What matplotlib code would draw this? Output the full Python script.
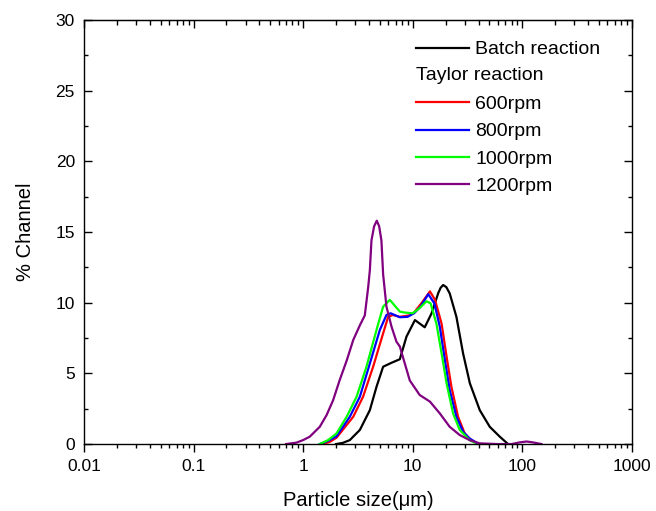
import matplotlib
matplotlib.use("Agg")
import matplotlib.pyplot as plt
from matplotlib.lines import Line2D
from matplotlib.ticker import LogLocator, FixedLocator, MultipleLocator, NullFormatter

plt.rcParams['font.family'] = ['Liberation Sans', 'DejaVu Sans']

# values
batch_x = [2.0, 2.3, 2.67, 3.30, 4.07, 4.68, 5.38, 6.42, 7.38, 7.64, 8.79, 10.5, 12.9, 14.9,
           17.1, 18.0, 19.0, 20.3, 21.8, 25.1, 28.9, 33.3, 41.0, 50.6, 62.5, 74.3]
batch_y = [0, 0.08, 0.28, 1.0, 2.4, 4.05, 5.47, 5.75, 5.95, 6.0, 7.6, 8.77, 8.26, 9.25,
           10.66, 11.05, 11.25, 11.1, 10.66, 9.0, 6.4, 4.3, 2.4, 1.22, 0.52, 0.0]

rpm600_x = [1.50, 1.75, 2.02, 2.87, 3.53, 4.36, 5.38, 5.98, 6.6, 7.64, 9.3, 10.3, 12.0, 14.4,
            16.0, 18.4, 20.4, 22.6, 26.0, 29.9, 34.0, 38.0]
rpm600_y = [0, 0.15, 0.45, 1.93, 3.35, 5.47, 7.83, 9.0, 9.13, 9.0, 9.1, 9.3, 9.95, 10.8,
            10.2, 8.5, 6.2, 4.05, 1.93, 0.75, 0.3, 0.1]

rpm800_x = [1.42, 1.69, 2.02, 2.67, 3.30, 4.07, 5.02, 5.77, 6.3, 7.64, 9.0, 10.3, 11.8, 13.9,
            15.8, 17.7, 19.7, 21.8, 25.1, 28.9, 33.0, 38.2]
rpm800_y = [0, 0.22, 0.55, 1.93, 3.35, 5.7, 8.07, 9.13, 9.25, 8.97, 9.0, 9.25, 9.72, 10.6,
            9.95, 8.3, 5.95, 3.82, 1.93, 0.87, 0.4, 0.1]

rpm1000_x = [1.42, 1.69, 2.02, 2.50, 3.08, 3.79, 4.68, 5.38, 6.19, 7.64, 8.5, 10.0, 11.5, 13.4,
             14.6, 16.5, 18.4, 20.4, 23.4, 26.9, 33.0, 36.9]
rpm1000_y = [0, 0.28, 0.75, 1.93, 3.35, 5.47, 8.07, 9.72, 10.2, 9.37, 9.3, 9.25, 9.6, 10.1,
             9.95, 8.5, 6.4, 4.3, 2.17, 1.0, 0.28, 0.1]

rpm1200_x = [0.70, 0.87, 1.0, 1.15, 1.42, 1.64, 1.88, 2.16, 2.50, 2.87, 3.30, 3.66, 3.93,
             4.07, 4.21, 4.45, 4.71, 4.95, 5.19, 5.38, 5.77, 6.42, 7.12, 7.64, 9.42, 11.6,
             14.4, 17.7, 21.8, 26.9, 33.1, 40.9, 60, 80, 95, 110, 125, 150]
rpm1200_y = [0, 0.1, 0.28, 0.52, 1.22, 2.05, 3.1, 4.53, 5.9, 7.36, 8.4, 9.1, 11.1,
             12.3, 14.4, 15.4, 15.8, 15.4, 14.4, 12.0, 9.72, 8.3, 7.24, 6.9, 4.5, 3.47,
             3.0, 2.17, 1.22, 0.64, 0.28, 0.05, 0, 0, 0.12, 0.18, 0.12, 0]

x_ticks = [0.01, 0.1, 1, 10, 100, 1000]
x_labels = ["0.01", "0.1", "1", "10", "100", "1000"]
y_ticks = [0, 5, 10, 15, 20, 25, 30]

fig = plt.figure(figsize=(6.56, 5.11), dpi=100)
ax = fig.add_axes([0.128, 0.131, 0.835, 0.830])

lw = 1.6
ax.plot(batch_x, batch_y, color="black", lw=lw)
ax.plot(rpm600_x, rpm600_y, color="#FF0000", lw=lw)
ax.plot(rpm800_x, rpm800_y, color="#0000FF", lw=lw)
ax.plot(rpm1000_x, rpm1000_y, color="#00FF00", lw=lw)
ax.plot(rpm1200_x, rpm1200_y, color="#800080", lw=lw)

ax.set_xscale("log")
ax.set_xlim(0.01, 1000)
ax.set_ylim(0, 30)
ax.xaxis.set_major_locator(FixedLocator(x_ticks))
ax.set_xticklabels(x_labels)
ax.xaxis.set_minor_locator(LogLocator(base=10, subs=range(2, 10), numticks=20))
ax.xaxis.set_minor_formatter(NullFormatter())
ax.set_yticks(y_ticks)
ax.yaxis.set_minor_locator(MultipleLocator(2.5))

for s in ax.spines.values():
    s.set_linewidth(1.0)
ax.tick_params(which="both", labelsize=12.5, width=1.0)
ax.tick_params(axis="x", which="major", direction="out", length=6, pad=5, top=False)
ax.tick_params(axis="x", which="minor", direction="out", length=3, top=False)
ax.tick_params(axis="y", which="major", direction="in", length=6, pad=6.5, right=True)
ax.tick_params(axis="y", which="minor", direction="in", length=3, right=True)

# top axis: inward ticks, no labels
top = ax.secondary_xaxis("top")
top.xaxis.set_major_locator(FixedLocator(x_ticks))
top.xaxis.set_minor_locator(LogLocator(base=10, subs=range(2, 10), numticks=20))
top.tick_params(which="major", direction="in", length=6, width=1.0, labeltop=False)
top.tick_params(which="minor", direction="in", length=3.5, width=1.0)
top.xaxis.set_major_formatter(NullFormatter())
top.xaxis.set_minor_formatter(NullFormatter())

ax.set_xlabel("Particle size(\u03bcm)", fontsize=14.5, labelpad=12)
ax.set_ylabel("% Channel", fontsize=14.5, labelpad=15)

handles = [Line2D([], [], color="black", lw=lw),
           Line2D([], [], color="none"),
           Line2D([], [], color="#FF0000", lw=lw),
           Line2D([], [], color="#0000FF", lw=lw),
           Line2D([], [], color="#00FF00", lw=lw),
           Line2D([], [], color="#800080", lw=lw)]
labels = ["Batch reaction", " ", "600rpm", "800rpm", "1000rpm", "1200rpm"]
ax.legend(handles, labels, loc="upper left", bbox_to_anchor=(0.606, 0.951),
          frameon=False, fontsize=14, handlelength=2.75, handletextpad=0.3,
          labelspacing=0.5, borderpad=0, borderaxespad=0)
ax.text(0.606, 0.869, "Taylor reaction", transform=ax.transAxes,
        fontsize=14, va="center", ha="left")

fig.savefig("out.png", dpi=100)
